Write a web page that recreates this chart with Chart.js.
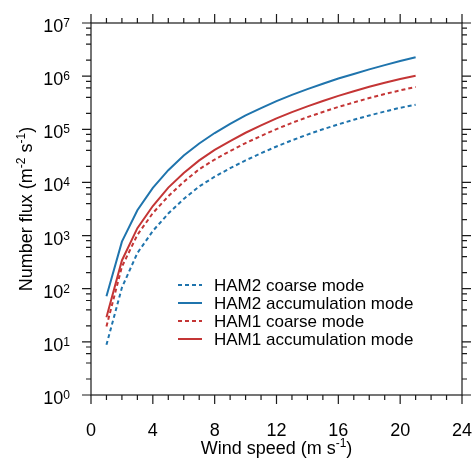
<!DOCTYPE html>
<html>
<head>
<meta charset="utf-8">
<script src="https://cdn.jsdelivr.net/npm/chart.js@4.4.1/dist/chart.umd.min.js"></script>
<style>
  html, body { margin: 0; padding: 0; background: #fff; }
</style>
</head>
<body>
<canvas id="myChart" width="474" height="462"></canvas>
<script>
// wind speed (m s-1) at which the fluxes were read
const windSpeed = [1, 2, 3, 4, 5, 6, 7, 8, 9, 10, 11, 12, 13, 14, 15, 16, 17, 18, 19, 20, 21]

// number flux (m-2 s-1)
const ham2Coarse = [8.8, 105, 470, 1220, 2600, 4900, 8400, 12800, 18500, 26000, 35500,
  47500, 62000, 79500, 100000, 124000, 151000, 182000, 216000, 254000, 290000]
const ham2Accum = [72, 770, 3000, 7900, 17000, 32000, 54000, 85000, 127000, 182000, 250000,
  338000, 443000, 570000, 720000, 900000, 1100000, 1340000, 1610000, 1920000, 2270000]
const ham1Coarse = [19.5, 260, 1030, 2650, 5500, 10300, 17700, 27000, 39000, 55000, 75000,
  101000, 132000, 169000, 212000, 263000, 320000, 387000, 460000, 540000, 625000]
const ham1Accum = [29, 340, 1380, 3600, 8000, 15000, 26000, 41000, 60000, 86000, 118000,
  160000, 210000, 270000, 340000, 425000, 520000, 630000, 750000, 880000, 1020000]

const seriesNames = ['HAM2 coarse mode', 'HAM2 accumulation mode', 'HAM1 coarse mode', 'HAM1 accumulation mode']
const xTickLabels = [0, 4, 8, 12, 16, 20, 24]
const yExponents = [0, 1, 2, 3, 4, 5, 6, 7]

const blue = '#1f74ad'
const red = '#c43535'
const fontFam = '"Liberation Sans", Arial, sans-serif'

function pairs(arr) {
  return windSpeed.map((w, i) => ({ x: w, y: arr[i] }))
}

// text made of normal and raised parts
function partsWidth(ctx, parts, size, supSize) {
  let w = 0
  parts.forEach(p => {
    ctx.font = (p.sup ? supSize : size) + 'px ' + fontFam
    w += ctx.measureText(p.t).width
  })
  return w
}
function drawParts(ctx, parts, x, y, size, supSize, rise) {
  ctx.textAlign = 'left'
  ctx.textBaseline = 'alphabetic'
  parts.forEach(p => {
    ctx.font = (p.sup ? supSize : size) + 'px ' + fontFam
    ctx.fillText(p.t, x, p.sup ? y - rise : y)
    x += ctx.measureText(p.t).width
  })
}

const axesPlugin = {
  id: 'ncAxes',
  afterDraw(chart) {
    const ctx = chart.ctx
    const a = chart.chartArea
    const xs = chart.scales.x
    const ys = chart.scales.y
    ctx.save()
    ctx.strokeStyle = '#1a1a1a'
    ctx.fillStyle = '#000'
    ctx.lineWidth = 1.2
    ctx.setLineDash([])
    ctx.strokeRect(a.left, a.top, a.right - a.left, a.bottom - a.top)

    const major = 9, minor = 5
    ctx.beginPath()
    // x ticks on bottom and top
    for (let v = 0; v <= 24; v++) {
      const px = xs.getPixelForValue(v)
      const len = v % 4 === 0 ? major : minor
      ctx.moveTo(px, a.bottom); ctx.lineTo(px, a.bottom + len)
      ctx.moveTo(px, a.top); ctx.lineTo(px, a.top - len)
    }
    // y ticks on left and right
    yExponents.forEach(e => {
      const py = ys.getPixelForValue(Math.pow(10, e))
      ctx.moveTo(a.left, py); ctx.lineTo(a.left - major, py)
      ctx.moveTo(a.right, py); ctx.lineTo(a.right + major, py)
      if (e < 7) {
        [2, 4, 6, 8].forEach(m => {
          const pm = ys.getPixelForValue(m * Math.pow(10, e))
          ctx.moveTo(a.left, pm); ctx.lineTo(a.left - minor, pm)
          ctx.moveTo(a.right, pm); ctx.lineTo(a.right + minor, pm)
        })
      }
    })
    ctx.stroke()

    // x tick labels
    ctx.font = '18px ' + fontFam
    ctx.textAlign = 'center'
    ctx.textBaseline = 'alphabetic'
    xTickLabels.forEach(v => {
      ctx.fillText(String(v), xs.getPixelForValue(v), a.bottom + 41)
    })

    // y tick labels 10^n
    yExponents.forEach(e => {
      const py = ys.getPixelForValue(Math.pow(10, e))
      const parts = [{ t: '10' }, { t: String(e), sup: true }]
      const w = partsWidth(ctx, parts, 18, 12)
      drawParts(ctx, parts, 70 - w, py + 9, 18, 12, 5)
    })

    // x title
    const xt = [{ t: 'Wind speed (m s' }, { t: '-1', sup: true }, { t: ')' }]
    const xw = partsWidth(ctx, xt, 18, 12)
    drawParts(ctx, xt, (a.left + a.right) / 2 - xw / 2, 454, 18, 12, 7)

    // y title
    const yt = [{ t: 'Number flux (m' }, { t: '-2', sup: true }, { t: ' s' }, { t: '-1', sup: true }, { t: ')' }]
    const yw = partsWidth(ctx, yt, 18, 12)
    ctx.save()
    ctx.translate(32, (a.top + a.bottom) / 2)
    ctx.rotate(-Math.PI / 2)
    drawParts(ctx, yt, -yw / 2, 0, 18, 12, 7)
    ctx.restore()

    // legend
    const rows = [285, 303, 321, 339]
    chart.data.datasets.forEach((ds, i) => {
      ctx.beginPath()
      ctx.strokeStyle = ds.borderColor
      ctx.lineWidth = 2
      ctx.setLineDash(ds.borderDash || [])
      ctx.moveTo(178, rows[i]); ctx.lineTo(202, rows[i])
      ctx.stroke()
      ctx.setLineDash([])
      ctx.font = '17px ' + fontFam
      ctx.textAlign = 'left'
      ctx.textBaseline = 'middle'
      ctx.fillStyle = '#000'
      ctx.fillText(ds.label, 214, rows[i] + 1)
    })
    ctx.restore()
  }
}

const data = {
  datasets: [
    { label: seriesNames[0], data: pairs(ham2Coarse), borderColor: blue, borderDash: [4, 3] },
    { label: seriesNames[1], data: pairs(ham2Accum), borderColor: blue },
    { label: seriesNames[2], data: pairs(ham1Coarse), borderColor: red, borderDash: [4, 3] },
    { label: seriesNames[3], data: pairs(ham1Accum), borderColor: red }
  ]
}

const config = {
  type: 'line',
  data: data,
  options: {
    responsive: false,
    animation: false,
    layout: { padding: { left: 91, top: 23, right: 12, bottom: 67 } },
    elements: {
      line: { borderWidth: 2, tension: 0, fill: false },
      point: { radius: 0 }
    },
    plugins: {
      legend: { display: false },
      tooltip: { enabled: false }
    },
    scales: {
      x: { type: 'linear', min: 0, max: 24, display: false },
      y: { type: 'logarithmic', min: 1, max: 10000000, display: false }
    }
  },
  plugins: [axesPlugin]
}

new Chart(document.getElementById('myChart'), config)
</script>
</body>
</html>
